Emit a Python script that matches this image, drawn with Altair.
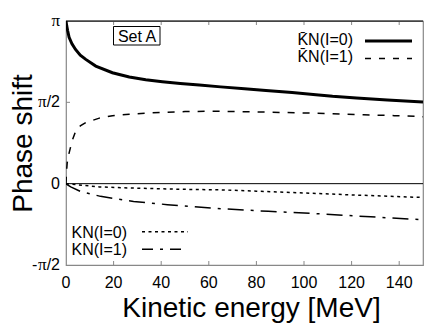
import altair as alt
import pandas as pd

# ---------------- data (phase shift in units of pi) ----------------
energy_kbn0 = [0, 0.3, 0.7, 1.3, 2.5, 4, 6, 8.3, 12.5, 19.5, 26.6, 33.5, 40.5, 48, 56, 65, 75, 84, 95, 105, 112, 122, 135, 150]
phase_kbn0 = [1.0, 0.97, 0.94, 0.90, 0.86, 0.825, 0.79, 0.764, 0.723, 0.682, 0.656, 0.639, 0.627, 0.616, 0.606, 0.595, 0.584, 0.573, 0.56, 0.547, 0.537, 0.526, 0.514, 0.502]

energy_kbn1 = [0, 0.2, 0.5, 1, 2.5, 4, 6, 8.3, 14, 19.5, 26.6, 33.5, 40, 50, 60, 70, 84, 100, 112, 125, 138, 150]
phase_kbn1 = [0, 0.07, 0.127, 0.17, 0.26, 0.32, 0.355, 0.375, 0.403, 0.418, 0.427, 0.433, 0.438, 0.443, 0.445, 0.444, 0.440, 0.435, 0.430, 0.424, 0.418, 0.412]

energy_kn0 = [0, 5, 14, 30, 50, 65, 80, 100, 120, 150]
phase_kn0 = [0, -0.007, -0.02, -0.028, -0.035, -0.038, -0.046, -0.057, -0.069, -0.085]

energy_kn1 = [0, 0.5, 2, 6, 14.5, 28.4, 42.6, 65, 85, 107, 128, 150]
phase_kn1 = [0, -0.006, -0.02, -0.047, -0.078, -0.109, -0.129, -0.154, -0.17, -0.186, -0.204, -0.222]

x_ticks = [0, 20, 40, 60, 80, 100, 120, 140]
y_tick_vals = [1.0, 0.5, 0.0, -0.5]
y_tick_text = ["π", "π/2", "0", "-π/2"]

legend_kbar = ["K\u0304N(I=0)", "K\u0304N(I=1)"]
legend_k = ["KN(I=0)", "KN(I=1)"]
set_label = "Set A"
x_title = "Kinetic energy [MeV]"
y_title = "Phase shift"

# ---------------- layout ----------------
W, H = 357, 244
SANS = "Liberation Sans"
SERIF = "Liberation Serif"
XMAX = 150.0

xscale = alt.Scale(domain=[0, XMAX], nice=False, zero=False)
yscale = alt.Scale(domain=[-0.5, 1.0], nice=False, zero=False)

one = pd.DataFrame({"a": [0]})


def line(E, P, **kw):
    df = pd.DataFrame({"E": E, "P": P})
    return alt.Chart(df).mark_line(color="black", clip=True, **kw).encode(
        x=alt.X("E:Q", scale=xscale, axis=None),
        y=alt.Y("P:Q", scale=yscale, axis=None),
    )


# x tick labels
xlab = alt.Chart(pd.DataFrame({"E": x_ticks, "t": [str(v) for v in x_ticks]})).mark_text(
    font=SANS, fontSize=16, align="center", baseline="top", color="black").encode(
    x=alt.X("E:Q", scale=xscale, axis=None), y=alt.value(H + 10), text="t:N")

zero_line = alt.Chart(pd.DataFrame({"P": [0]})).mark_rule(color="black", strokeWidth=1).encode(
    y=alt.Y("P:Q", scale=yscale, axis=None))

tick_df = pd.DataFrame({"E": x_ticks[1:]})
bottom_ticks = alt.Chart(tick_df).mark_rule(color="#888", strokeWidth=1).encode(
    x=alt.X("E:Q", scale=xscale, axis=None), y=alt.value(H), y2=alt.value(H - 4))
top_ticks = alt.Chart(tick_df).mark_rule(color="#888", strokeWidth=1).encode(
    x=alt.X("E:Q", scale=xscale, axis=None), y=alt.value(0), y2=alt.value(4))
left_ticks = alt.Chart(pd.DataFrame({"P": [0.5]})).mark_rule(color="#888", strokeWidth=1).encode(
    y=alt.Y("P:Q", scale=yscale, axis=None), x=alt.value(0), x2=alt.value(4))
top_line = alt.Chart(one).mark_rule(color="black", strokeWidth=1).encode(
    x=alt.value(0), x2=alt.value(W), y=alt.value(0))

# y tick labels with serif pi (x given in data units left of the axis)
sans_w = {"/": 0.278, "2": 0.556, "-": 0.333, "0": 0.556}
FS, FS_PI = 16, 17
W_PI = 0.55 * FS_PI
px2e = XMAX / W
rows_sans, rows_serif = [], []
for v, t in zip(y_tick_vals, y_tick_text):
    right = -6
    if "π" in t:
        pre, post = t.split("π")
        if post:
            rows_sans.append({"P": v, "t": post, "E": right * px2e})
        xr_pi = right - sum(sans_w.get(c, 0.556) for c in post) * FS
        rows_serif.append({"P": v, "t": "π", "E": xr_pi * px2e})
        if pre:
            rows_sans.append({"P": v, "t": pre, "E": (xr_pi - W_PI) * px2e})
    else:
        rows_sans.append({"P": v, "t": t, "E": right * px2e})

ylab_sans = alt.Chart(pd.DataFrame(rows_sans)).mark_text(
    font=SANS, fontSize=FS, align="right", baseline="middle", color="black").encode(
    x=alt.X("E:Q", scale=xscale, axis=None), y=alt.Y("P:Q", scale=yscale, axis=None), text="t:N")
ylab_serif = alt.Chart(pd.DataFrame(rows_serif)).mark_text(
    font=SERIF, fontSize=FS_PI, align="right", baseline="middle", color="black").encode(
    x=alt.X("E:Q", scale=xscale, axis=None), y=alt.Y("P:Q", scale=yscale, axis=None), text="t:N")

xt = alt.Chart(one).mark_text(font=SANS, fontSize=28, align="center", baseline="alphabetic",
                              color="black").encode(
    x=alt.value(185.5), y=alt.value(295.5), text=alt.value(x_title))
yt = alt.Chart(one).mark_text(font=SANS, fontSize=28, align="center", baseline="alphabetic",
                              angle=270, color="black").encode(
    x=alt.value(-34), y=alt.value(122.5), text=alt.value(y_title))

# Set A box
set_box = alt.Chart(one).mark_rect(fill="white", stroke="black", strokeWidth=1).encode(
    x=alt.value(47.5), x2=alt.value(94), y=alt.value(5.5), y2=alt.value(24))
set_text = alt.Chart(one).mark_text(font=SANS, fontSize=16, align="center", baseline="middle",
                                    color="black").encode(
    x=alt.value(71), y=alt.value(15.5), text=alt.value(set_label))


def leg_text(txt, x, y, align):
    return alt.Chart(one).mark_text(font=SANS, fontSize=16, align=align, baseline="middle",
                                    color="black").encode(
        x=alt.value(x), y=alt.value(y), text=alt.value(txt))


def leg_line(x1, x2, y, **kw):
    return alt.Chart(one).mark_rule(color="black", **kw).encode(
        x=alt.value(x1), x2=alt.value(x2), y=alt.value(y))


legends = [
    leg_text(legend_kbar[0], 287, 19, "right"),
    leg_line(299, 346, 20, strokeWidth=3),
    leg_text(legend_kbar[1], 287, 35.5, "right"),
    leg_line(299, 346, 37.5, strokeWidth=1.5, strokeDash=[6, 8]),
    leg_text(legend_k[0], 5.5, 211.5, "left"),
    leg_line(76, 122, 210.7, strokeWidth=1.5, strokeDash=[3, 3.5]),
    leg_text(legend_k[1], 5.5, 229, "left"),
    leg_line(76, 122, 228.3, strokeWidth=1.5, strokeDash=[11, 7, 3, 7]),
]

chart = alt.layer(
    zero_line,
    line(energy_kn0, phase_kn0, strokeWidth=1.5, strokeDash=[3, 3.5]),
    line(energy_kn1, phase_kn1, strokeWidth=1.5, strokeDash=[16, 7, 3, 7]),
    line(energy_kbn1, phase_kbn1, strokeWidth=1.5, strokeDash=[7, 8]),
    line(energy_kbn0, phase_kbn0, strokeWidth=3),
    bottom_ticks, top_ticks, left_ticks, top_line,
    xlab, ylab_sans, ylab_serif, xt, yt,
    set_box, set_text,
    *legends,
).properties(
    width=W, height=H,
    padding={"left": 58, "top": 13, "right": 5, "bottom": 60},
    autosize="none",
).configure_view(stroke="#888", strokeWidth=1.2)

chart.save("out.html", embed_options={"renderer": "svg", "actions": False})
